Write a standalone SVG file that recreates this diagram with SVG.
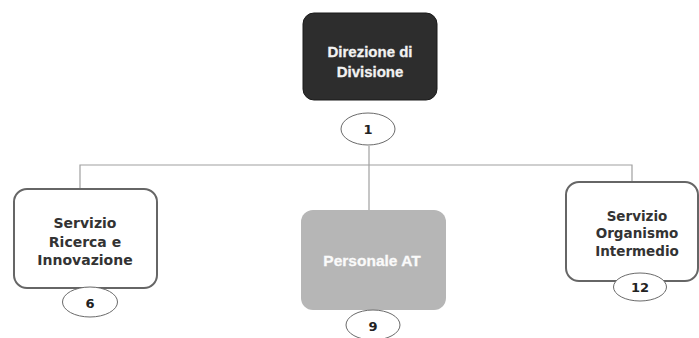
<svg xmlns="http://www.w3.org/2000/svg" width="699" height="338" viewBox="0 0 699 338">
<style>
.bg{fill:#ffffff}
.conn{fill:none;stroke:#a0a0a0;stroke-width:1.2}
.dark{fill:#2d2d2d;stroke:#1a1a1a;stroke-width:1}
.grey{fill:#b6b6b6;stroke:none}
.white{fill:#ffffff;stroke:#666666;stroke-width:2}
.ell{fill:#ffffff;stroke:#6a6a6a;stroke-width:1}
.t1{font-family:"Liberation Sans",Arial,sans-serif;font-weight:bold;font-size:15px;fill:#f2f2f2;text-anchor:middle;stroke:#f2f2f2;stroke-width:0.3}
.t2{font-family:"DejaVu Sans",Verdana,sans-serif;font-weight:bold;font-size:14px;fill:#333333;text-anchor:middle}
.t3{font-family:"DejaVu Sans",Verdana,sans-serif;font-weight:bold;font-size:13.5px;fill:#333333;text-anchor:middle}
.num{font-family:"DejaVu Sans",Verdana,sans-serif;font-weight:bold;font-size:13px;fill:#222222;text-anchor:middle}
</style>
<rect class="bg" x="0" y="0" width="699" height="338"/>
<g id="connectors">
<path class="conn" d="M369 146 V210"/>
<path class="conn" d="M80 189 V165 H632 V182"/>
</g>
<g id="node-direzione">
<rect class="dark" x="303" y="13" width="134" height="87" rx="11"/>
<text class="t1" x="370" y="57">Direzione di</text>
<text class="t1" x="370" y="77">Divisione</text>
<ellipse class="ell" cx="368" cy="129" rx="27" ry="16"/>
<text class="num" x="368" y="134">1</text>
</g>
<g id="node-ricerca">
<rect class="white" x="14" y="189" width="143" height="99" rx="13"/>
<text class="t2" x="85" y="228">Servizio</text>
<text class="t2" x="85" y="247">Ricerca e</text>
<text class="t2" x="85" y="265">Innovazione</text>
<ellipse class="ell" cx="90" cy="302" rx="27.5" ry="15"/>
<text class="num" x="90" y="308">6</text>
</g>
<g id="node-personale">
<rect class="grey" x="301" y="210" width="145" height="100" rx="12"/>
<text class="t1" x="372" y="266" style="font-size:15.5px;fill:#fafafa;stroke:#fafafa">Personale AT</text>
<ellipse class="ell" cx="373" cy="325" rx="27" ry="15"/>
<text class="num" x="373" y="331">9</text>
</g>
<g id="node-organismo">
<rect class="white" x="566" y="182" width="132" height="99" rx="13"/>
<text class="t3" x="637" y="221">Servizio</text>
<text class="t3" x="637" y="238">Organismo</text>
<text class="t3" x="637" y="256">Intermedio</text>
<ellipse class="ell" cx="640" cy="287" rx="26.5" ry="14"/>
<text class="num" x="640" y="292">12</text>
</g>
</svg>
